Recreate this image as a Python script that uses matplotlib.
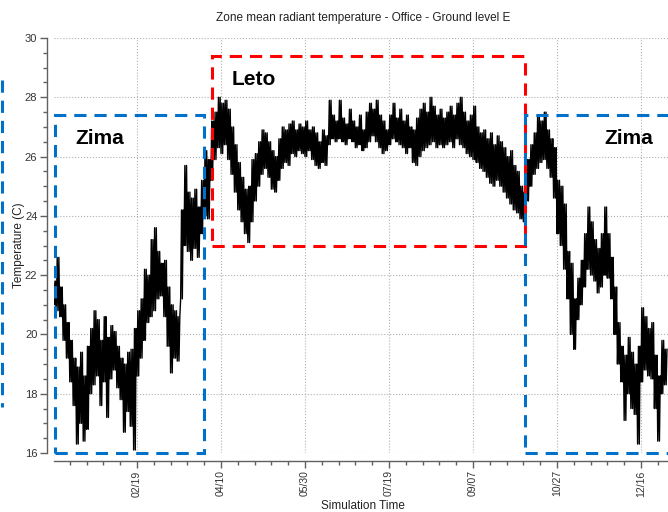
import numpy as np
import matplotlib
matplotlib.use("Agg")
import matplotlib.pyplot as plt
from matplotlib.patches import Rectangle
from matplotlib.lines import Line2D
from matplotlib.ticker import MultipleLocator

plt.rcParams['font.family'] = ['Liberation Sans', 'DejaVu Sans']

# Daily low / high of zone mean radiant temperature, sampled every 2 days (day-of-year)
temp_low = [21.0, 20.8, 20.6, 19.8, 19.2, 18.4, 17.6, 16.3, 17.0, 16.4,
            16.8, 18.0, 18.3, 18.6, 17.6, 18.4, 17.2, 18.5, 18.8, 18.2,
            17.8, 16.7, 17.4, 16.9, 16.1, 18.6, 19.2, 19.8, 20.4, 20.6,
            20.8, 21.2, 21.3, 20.6, 19.6, 18.7, 19.2, 19.1, 21.2, 23.0,
            22.8, 22.5, 22.9, 22.6, 23.4, 24.0, 23.9, 25.2, 25.9, 26.3,
            26.1, 26.4, 25.9, 25.4, 24.8, 24.2, 23.8, 23.4, 23.1, 23.8,
            24.5, 25.0, 25.4, 25.6, 25.3, 24.9, 24.8, 25.2, 25.6, 25.8,
            25.7, 26.1, 26.0, 26.2, 26.1, 26.0, 26.2, 25.9, 25.7, 25.6,
            25.8, 25.7, 26.4, 26.6, 26.5, 26.6, 26.5, 26.4, 26.6, 26.5,
            26.3, 26.4, 26.2, 26.3, 26.5, 26.7, 26.5, 26.3, 26.1, 26.2,
            26.4, 26.6, 26.5, 26.4, 26.3, 26.1, 26.3, 25.8, 25.7, 26.0,
            26.2, 26.3, 26.4, 26.5, 26.3, 26.4, 26.3, 26.4, 26.5, 26.3,
            26.6, 26.4, 26.3, 26.1, 26.0, 25.9, 25.8, 25.6, 25.5, 25.3,
            25.1, 25.0, 25.2, 25.0, 24.8, 24.6, 24.4, 24.2, 24.1, 23.9,
            23.8, 24.5, 25.0, 25.4, 25.6, 25.8, 25.9, 25.6, 25.3, 24.6,
            23.4, 23.0, 22.2, 21.2, 20.0, 19.5, 20.5, 21.0, 21.6, 22.2,
            22.0, 21.8, 21.4, 21.6, 22.0, 21.9, 21.2, 20.0, 19.0, 18.4,
            17.1, 18.0, 17.5, 17.3, 16.3, 18.4, 18.8, 18.6, 18.5, 17.5,
            16.4, 18.0, 18.3]
temp_high = [21.8, 22.6, 21.6, 21.0, 20.4, 19.8, 19.2, 18.9, 19.4, 18.6,
             19.6, 20.2, 20.8, 20.5, 19.8, 20.6, 19.9, 20.3, 20.1, 19.6,
             19.2, 19.0, 19.4, 19.5, 20.2, 20.8, 21.2, 22.2, 22.0, 23.2,
             23.6, 22.8, 22.4, 22.5, 21.6, 21.0, 20.8, 20.6, 24.2, 25.7,
             24.8, 24.6, 24.9, 24.3, 25.2, 26.2, 25.9, 27.2, 27.5, 28.0,
             27.8, 27.9, 27.6, 27.0, 26.4, 25.8, 25.3, 24.9, 25.0, 25.9,
             26.1, 26.5, 26.9, 26.8, 26.5, 26.2, 26.0, 26.6, 27.0, 26.9,
             27.1, 27.2, 26.9, 27.1, 27.0, 27.2, 26.9, 27.0, 26.8, 26.5,
             26.9, 26.7, 27.9, 27.4, 27.2, 27.9, 27.3, 27.1, 27.6, 27.2,
             27.0, 27.4, 26.9, 27.5, 27.8, 27.6, 27.9, 27.4, 27.2, 26.9,
             27.4, 27.8, 27.3, 27.6, 27.2, 27.4, 27.0, 26.9, 27.3, 27.6,
             27.8, 27.5, 28.0, 27.7, 27.4, 27.6, 27.3, 27.5, 27.7, 27.4,
             27.8, 28.0, 27.5, 27.2, 27.4, 27.7, 27.0, 26.8, 26.9, 26.6,
             26.8, 26.4, 26.7, 26.5, 26.3, 26.0, 26.2, 25.7, 25.5, 25.0,
             24.8, 25.9, 26.4, 26.8, 27.4, 27.2, 27.5, 26.9, 26.6, 26.3,
             25.2, 25.0, 24.4, 22.8, 22.4, 21.2, 21.9, 22.5, 23.4, 24.3,
             23.8, 23.2, 22.9, 23.4, 24.3, 23.4, 22.6, 21.6, 20.4, 19.6,
             19.3, 19.9, 19.4, 19.0, 19.6, 20.9, 20.6, 20.2, 20.4, 19.3,
             18.6, 19.8, 19.5]
sample_day = np.arange(len(temp_low)) * 2.0

tick_days = [50, 100, 150, 200, 250, 300, 350]
tick_labels = ['02/19', '04/10', '05/30', '07/19', '09/07', '10/27', '12/16']

# Season boxes: (label, day_start, day_end, temp_bottom, temp_top)
season_boxes = [
    ('Zima', 1.2, 90.0, 16.0, 27.4),
    ('Leto', 94.4, 281.0, 23.0, 29.4),
    ('Zima', 281.0, 390.0, 16.0, 27.4),
]
season_labels = [('Zima', 28, 26.6), ('Leto', 119.6, 28.6), ('Zima', 343, 26.6)]

# build trace: low/high twice within each 2-day sample
offs = np.array([0.0, 0.5, 1.0, 1.5])
lo = np.asarray(temp_low)
hi = np.asarray(temp_high)
xs = (sample_day[:, None] + offs[None, :]).ravel()
ys = np.column_stack([lo, hi, lo, hi]).ravel()

W, H = 668, 512
fig = plt.figure(figsize=(W / 100, H / 100), dpi=100)
ax = fig.add_axes([54 / W, (H - 453) / H, (W - 54) / W, (453 - 38) / H])

ax.plot(xs, ys, color='black', linewidth=1.0, zorder=3)

ax.set_xlim(0.6, 366.1)
ax.set_ylim(16, 30)

for s in ['top', 'right']:
    ax.spines[s].set_visible(False)
ax.spines['left'].set_position(('outward', 5))
ax.spines['bottom'].set_position(('outward', 6))
for s in ['left', 'bottom']:
    ax.spines[s].set_color('#606060')
    ax.spines[s].set_linewidth(1.0)

ax.yaxis.set_major_locator(MultipleLocator(2))
ax.yaxis.set_minor_locator(MultipleLocator(0.5))
ax.set_xticks(tick_days)
ax.set_xticklabels(tick_labels, rotation=90)
ax.xaxis.set_minor_locator(MultipleLocator(10))
ax.tick_params(axis='both', which='major', length=5, width=1, color='#606060',
               labelsize=8, labelcolor='#333333', pad=2)
ax.tick_params(axis='x', which='major', labelsize=7.5, pad=1.5)
ax.tick_params(axis='both', which='minor', length=3, width=1, color='#606060')

ax.grid(True, which='major', linestyle=':', color='#b0b0b0', linewidth=0.8)

ax.set_ylabel('Temperature (C)', fontsize=8.5, color='#222222')
ax.yaxis.set_label_coords(-0.047, 0.50)
ax.set_xlabel('Simulation Time', fontsize=8.5, color='#222222')
ax.xaxis.set_label_coords(0.503, -0.114)
ax.text(0.503, 1.048, 'Zone mean radiant temperature - Office - Ground level E',
        transform=ax.transAxes, ha='center', va='center', fontsize=8.5, color='#222222')

colors = {'Zima': '#0070C8', 'Leto': '#FF0000'}
for name, x0, x1, y0, y1 in season_boxes:
    ax.add_patch(Rectangle((x0, y0), x1 - x0, y1 - y0, fill=False,
                           edgecolor=colors[name], linewidth=2.2,
                           linestyle=(0, (4, 2.6)), zorder=4, clip_on=False))
for name, x, y in season_labels:
    ax.text(x, y, name, fontsize=15, fontweight='bold', ha='center', va='center',
            color='black', zorder=5)

fig.add_artist(Line2D([2 / W, 2 / W], [(H - 80) / H, (H - 407) / H],
                      transform=fig.transFigure, color='#0070C8', linewidth=2.2,
                      linestyle=(0, (4, 2.6))))

fig.savefig('out.png', dpi=100)
